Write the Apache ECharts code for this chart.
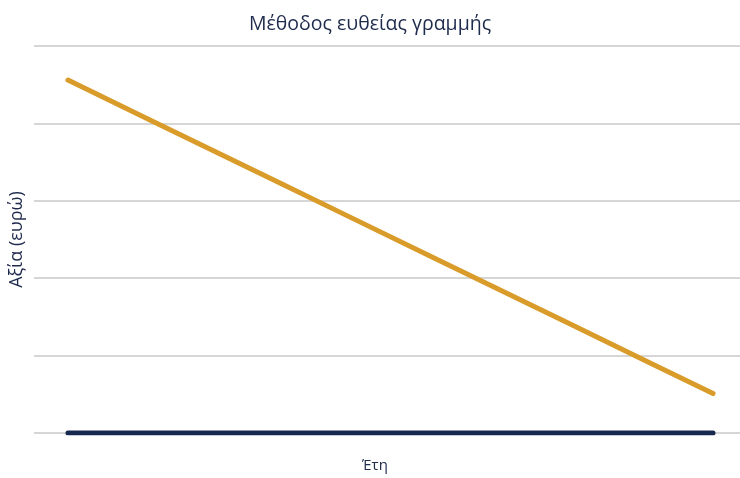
<!DOCTYPE html>
<html><head><meta charset="utf-8">
<script src="https://cdn.jsdelivr.net/npm/echarts@6/dist/echarts.min.js"></script>
<style>html,body{margin:0;padding:0;background:#fff}#c{width:740px;height:478px}</style>
</head><body><div id="c"></div>
<script>
const years = [1, 2, 3, 4, 5, 6, 7, 8, 9, 10];
const bookValue = [22800, 20550, 18300, 16050, 13800, 11550, 9300, 7050, 4800, 2550];
const baseline = [0, 0, 0, 0, 0, 0, 0, 0, 0, 0];
const titleText = 'Μέθοδος ευθείας γραμμής';
const yName = 'Αξία (ευρώ)';
const xName = 'Έτη';

const chart = echarts.init(document.getElementById('c'));
const font = '"Open Sans", "Noto Sans", sans-serif';
chart.setOption({
  animation: false,
  title: { text: titleText, left: 'center', top: 9,
    textStyle: { fontFamily: font, fontSize: 19.5, fontWeight: 'normal', color: '#1f2b4d' } },
  grid: { left: 34, right: 0, top: 46, bottom: 35 },
  xAxis: { type: 'value', min: 0.526, max: 10.376,
    name: xName, nameLocation: 'middle', nameGap: 25,
    nameTextStyle: { fontFamily: font, fontSize: 15, color: '#1f2b4d', padding: [0, 24, 0, 0] },
    axisLine: { show: false }, axisTick: { show: false }, axisLabel: { show: false }, splitLine: { show: false } },
  yAxis: { type: 'value', min: 0, max: 25000, interval: 5000,
    name: yName, nameLocation: 'middle', nameGap: 8,
    nameTextStyle: { fontFamily: font, fontSize: 18, color: '#1f2b4d' },
    axisLine: { show: false }, axisTick: { show: false }, axisLabel: { show: false },
    splitLine: { lineStyle: { color: '#c8c8c8', width: 1.5 } } },
  series: [
    { type: 'line', data: years.map((y, i) => [y, baseline[i]]), showSymbol: false,
      lineStyle: { color: '#18294f', width: 5, cap: 'round' } },
    { type: 'line', data: years.map((y, i) => [y, bookValue[i]]), showSymbol: false,
      lineStyle: { color: '#d99b29', width: 5, cap: 'round' } }
  ]
});
</script></body></html>
